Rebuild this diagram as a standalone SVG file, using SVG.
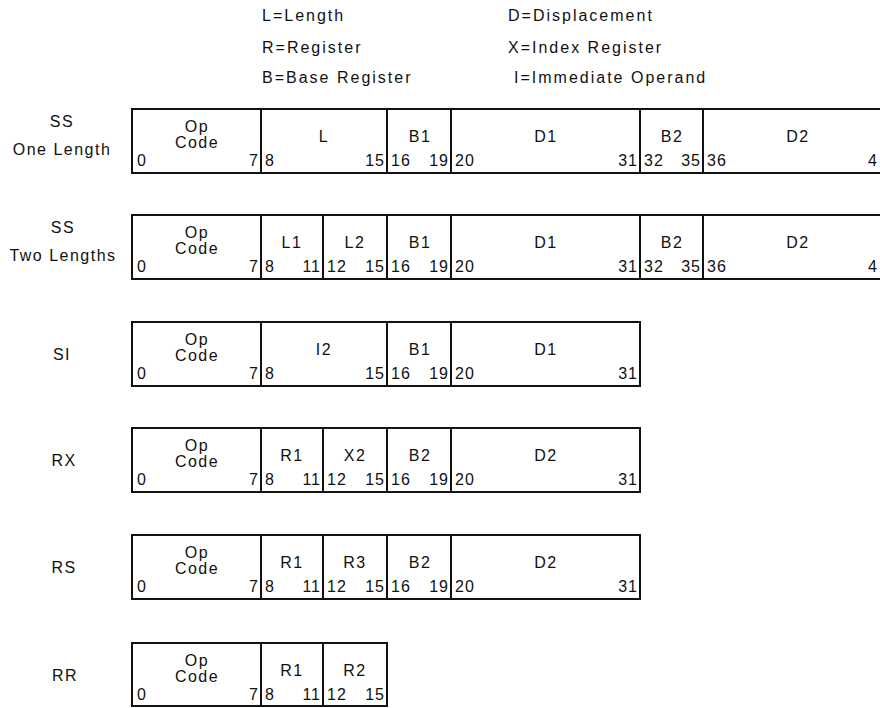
<svg xmlns="http://www.w3.org/2000/svg" width="880" height="708" viewBox="0 0 880 708">
<style>
text{font-family:"Liberation Sans",Arial,sans-serif;fill:#111;}
.lg{font-size:16px;letter-spacing:2px;}
.rl{font-size:16px;letter-spacing:1.5px;text-anchor:middle;}
.f{font-size:16px;letter-spacing:1.5px;text-anchor:middle;}
.n{font-size:16px;letter-spacing:1px;}
.e{text-anchor:end;}
.box{fill:none;stroke:#111;stroke-width:2;}
.div{stroke:#111;stroke-width:2;}
</style>
<rect width="880" height="708" fill="#fff"/>
<g id="legend">
<text class="lg" x="262" y="21">L=Length</text>
<text class="lg" x="262" y="53">R=Register</text>
<text class="lg" x="262" y="83">B=Base Register</text>
<text class="lg" x="508" y="21">D=Displacement</text>
<text class="lg" x="508" y="53">X=Index Register</text>
<text class="lg" x="514" y="83">I=Immediate Operand</text>
</g>
<g id="ss-one-length">
<text class="rl" x="62" y="127">SS</text>
<text class="rl" x="62" y="155">One Length</text>
<path class="box" d="M880,109 H132 V173 H880"/>
<path class="div" d="M261,109 V173 M387,109 V173 M451,109 V173 M640,109 V173 M703,109 V173"/>
<text class="f" x="197" y="132">Op</text>
<text class="f" x="197" y="148">Code</text>
<text class="f" x="324" y="142">L</text>
<text class="f" x="420" y="142">B1</text>
<text class="f" x="546" y="142">D1</text>
<text class="f" x="672" y="142">B2</text>
<text class="f" x="798" y="142">D2</text>
<text class="n" x="137" y="166">0</text>
<text class="n e" x="259" y="166">7</text>
<text class="n" x="265" y="166">8</text>
<text class="n e" x="385" y="166">15</text>
<text class="n" x="391" y="166">16</text>
<text class="n e" x="449" y="166">19</text>
<text class="n" x="455" y="166">20</text>
<text class="n e" x="638" y="166">31</text>
<text class="n" x="644" y="166">32</text>
<text class="n e" x="701" y="166">35</text>
<text class="n" x="707" y="166">36</text>
<text class="n" x="868" y="166">4</text>
</g>
<g id="ss-two-lengths">
<text class="rl" x="63" y="233">SS</text>
<text class="rl" x="63" y="261">Two Lengths</text>
<path class="box" d="M880,215 H132 V279 H880"/>
<path class="div" d="M261,215 V279 M323,215 V279 M387,215 V279 M451,215 V279 M640,215 V279 M703,215 V279"/>
<text class="f" x="197" y="238">Op</text>
<text class="f" x="197" y="254">Code</text>
<text class="f" x="292" y="248">L1</text>
<text class="f" x="355" y="248">L2</text>
<text class="f" x="420" y="248">B1</text>
<text class="f" x="546" y="248">D1</text>
<text class="f" x="672" y="248">B2</text>
<text class="f" x="798" y="248">D2</text>
<text class="n" x="137" y="272">0</text>
<text class="n e" x="259" y="272">7</text>
<text class="n" x="265" y="272">8</text>
<text class="n e" x="321" y="272">11</text>
<text class="n" x="327" y="272">12</text>
<text class="n e" x="385" y="272">15</text>
<text class="n" x="391" y="272">16</text>
<text class="n e" x="449" y="272">19</text>
<text class="n" x="455" y="272">20</text>
<text class="n e" x="638" y="272">31</text>
<text class="n" x="644" y="272">32</text>
<text class="n e" x="701" y="272">35</text>
<text class="n" x="707" y="272">36</text>
<text class="n" x="868" y="272">4</text>
</g>
<g id="si">
<text class="rl" x="62" y="360">SI</text>
<rect class="box" x="132" y="322" width="508" height="64"/>
<path class="div" d="M261,322 V386 M387,322 V386 M451,322 V386"/>
<text class="f" x="197" y="345">Op</text>
<text class="f" x="197" y="361">Code</text>
<text class="f" x="324" y="355">I2</text>
<text class="f" x="420" y="355">B1</text>
<text class="f" x="546" y="355">D1</text>
<text class="n" x="137" y="379">0</text>
<text class="n e" x="259" y="379">7</text>
<text class="n" x="265" y="379">8</text>
<text class="n e" x="385" y="379">15</text>
<text class="n" x="391" y="379">16</text>
<text class="n e" x="449" y="379">19</text>
<text class="n" x="455" y="379">20</text>
<text class="n e" x="638" y="379">31</text>
</g>
<g id="rx">
<text class="rl" x="64" y="466">RX</text>
<rect class="box" x="132" y="428" width="508" height="64"/>
<path class="div" d="M261,428 V492 M323,428 V492 M387,428 V492 M451,428 V492"/>
<text class="f" x="197" y="451">Op</text>
<text class="f" x="197" y="467">Code</text>
<text class="f" x="292" y="461">R1</text>
<text class="f" x="355" y="461">X2</text>
<text class="f" x="420" y="461">B2</text>
<text class="f" x="546" y="461">D2</text>
<text class="n" x="137" y="485">0</text>
<text class="n e" x="259" y="485">7</text>
<text class="n" x="265" y="485">8</text>
<text class="n e" x="321" y="485">11</text>
<text class="n" x="327" y="485">12</text>
<text class="n e" x="385" y="485">15</text>
<text class="n" x="391" y="485">16</text>
<text class="n e" x="449" y="485">19</text>
<text class="n" x="455" y="485">20</text>
<text class="n e" x="638" y="485">31</text>
</g>
<g id="rs">
<text class="rl" x="64" y="573">RS</text>
<rect class="box" x="132" y="535" width="508" height="64"/>
<path class="div" d="M261,535 V599 M323,535 V599 M387,535 V599 M451,535 V599"/>
<text class="f" x="197" y="558">Op</text>
<text class="f" x="197" y="574">Code</text>
<text class="f" x="292" y="568">R1</text>
<text class="f" x="355" y="568">R3</text>
<text class="f" x="420" y="568">B2</text>
<text class="f" x="546" y="568">D2</text>
<text class="n" x="137" y="592">0</text>
<text class="n e" x="259" y="592">7</text>
<text class="n" x="265" y="592">8</text>
<text class="n e" x="321" y="592">11</text>
<text class="n" x="327" y="592">12</text>
<text class="n e" x="385" y="592">15</text>
<text class="n" x="391" y="592">16</text>
<text class="n e" x="449" y="592">19</text>
<text class="n" x="455" y="592">20</text>
<text class="n e" x="638" y="592">31</text>
</g>
<g id="rr">
<text class="rl" x="65" y="681">RR</text>
<rect class="box" x="132" y="643" width="255" height="63"/>
<path class="div" d="M261,643 V706 M323,643 V706"/>
<text class="f" x="197" y="666">Op</text>
<text class="f" x="197" y="682">Code</text>
<text class="f" x="292" y="676">R1</text>
<text class="f" x="355" y="676">R2</text>
<text class="n" x="137" y="700">0</text>
<text class="n e" x="259" y="700">7</text>
<text class="n" x="265" y="700">8</text>
<text class="n e" x="321" y="700">11</text>
<text class="n" x="327" y="700">12</text>
<text class="n e" x="385" y="700">15</text>
</g>
</svg>
